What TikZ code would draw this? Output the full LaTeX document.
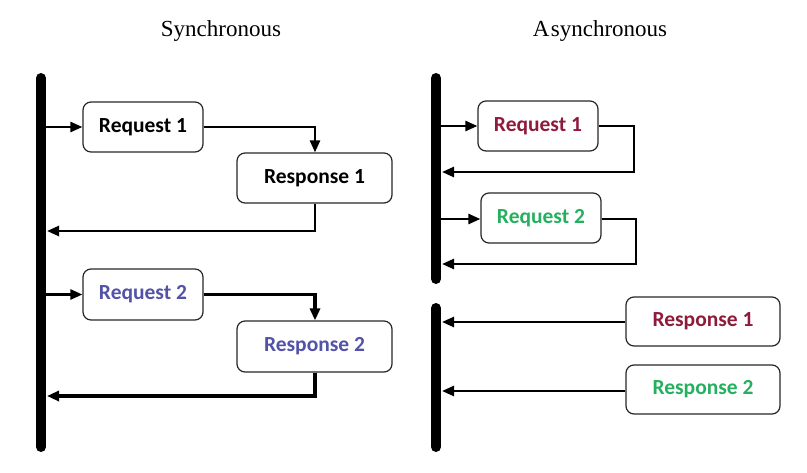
\documentclass[tikz,border=0pt]{standalone}
\usepackage{fontspec}
\setmainfont{Liberation Serif}
\newfontfamily\boxfont{Carlito}
\usetikzlibrary{arrows.meta}
\definecolor{reqblue}{HTML}{5252A8}
\definecolor{darkred}{HTML}{8E1B3C}
\definecolor{reqgreen}{HTML}{25B05F}
\tikzset{
  msgbox/.style={draw=black!85, line width=1.2pt, rounded corners=8pt, inner sep=0pt,
    font=\boxfont\bfseries\fontsize{21.5}{24}\selectfont},
  bar/.style={line width=10pt, line cap=round},
  conn/.style={line width=2.5pt, -{Triangle[length=12pt,width=10pt]}},
  thickconn/.style={line width=3.2pt, -{Triangle[length=12pt,width=10pt]}},
  title/.style={font=\fontsize{23}{26}\selectfont}
}
\begin{document}
\begin{tikzpicture}[x=1pt,y=-1pt]
\useasboundingbox (0,0) rectangle (807,472);
% titles
\node[title] (t1) at (221,31) {Synchronous};
\node[title] (t2) at (600,31) {A\kern1.5pt synchronous};
% bars
\coordinate (lb1) at (41,78);
\coordinate (lb2) at (41,447);
\draw[bar] (lb1) -- (lb2);
\coordinate (rb1) at (436,78);
\coordinate (rb2) at (436,279);
\draw[bar] (rb1) -- (rb2);
\coordinate (rc1) at (436,308);
\coordinate (rc2) at (436,447);
\draw[bar] (rc1) -- (rc2);
% synchronous boxes
\node[msgbox, minimum width=120pt, minimum height=50pt] (sq1) at (143,127) {Request 1};
\node[msgbox, minimum width=155pt, minimum height=50pt] (sp1) at (314.5,178) {Response 1};
\node[msgbox, minimum width=120pt, minimum height=51pt, text=reqblue] (sq2) at (143,294.5) {Request 2};
\node[msgbox, minimum width=155pt, minimum height=51pt, text=reqblue] (sp2) at (314.5,346.5) {Response 2};
% synchronous connectors
\coordinate (s1a) at (46,127);
\draw[conn] (s1a) -- (sq1.west);
\coordinate (s1b) at (315,127);
\draw[conn] (sq1.east) -- (sq1.east -| s1b) -- (s1b |- sp1.north);
\coordinate (s1c) at (315,231);
\coordinate (s1d) at (47,231);
\draw[conn] (s1c |- sp1.south) -- (s1c) -- (s1d);
\coordinate (s2a) at (46,294.5);
\draw[conn] (s2a) -- (sq2.west);
\coordinate (s2b) at (315,294.5);
\draw[thickconn] (sq2.east) -- (sq2.east -| s2b) -- (s2b |- sp2.north);
\coordinate (s2c) at (315,396);
\coordinate (s2d) at (47,396);
\draw[thickconn] (s2c |- sp2.south) -- (s2c) -- (s2d);
% asynchronous boxes
\node[msgbox, minimum width=120pt, minimum height=50pt, text=darkred] (aq1) at (538,126) {Request 1};
\node[msgbox, minimum width=120pt, minimum height=50pt, text=reqgreen] (aq2) at (541,218) {Request 2};
\node[msgbox, minimum width=154pt, minimum height=49pt, text=darkred] (ap1) at (703,321.5) {Response 1};
\node[msgbox, minimum width=154pt, minimum height=49pt, text=reqgreen] (ap2) at (703,389.5) {Response 2};
% asynchronous connectors
\coordinate (a1a) at (441,126);
\draw[conn] (a1a) -- (aq1.west);
\coordinate (a1b) at (634,126);
\coordinate (a1c) at (634,172);
\coordinate (a1d) at (442,172);
\draw[conn] (aq1.east) -- (a1b) -- (a1c) -- (a1d);
\coordinate (a2a) at (441,219);
\draw[conn] (a2a) -- (aq2.west |- a2a);
\coordinate (a2b) at (636,219);
\coordinate (a2c) at (636,264);
\coordinate (a2d) at (442,264);
\draw[conn] (aq2.east |- a2b) -- (a2b) -- (a2c) -- (a2d);
\coordinate (a3d) at (442,322);
\draw[conn] (ap1.west |- a3d) -- (a3d);
\coordinate (a4d) at (442,391);
\draw[conn] (ap2.west |- a4d) -- (a4d);
\end{tikzpicture}
\end{document}
